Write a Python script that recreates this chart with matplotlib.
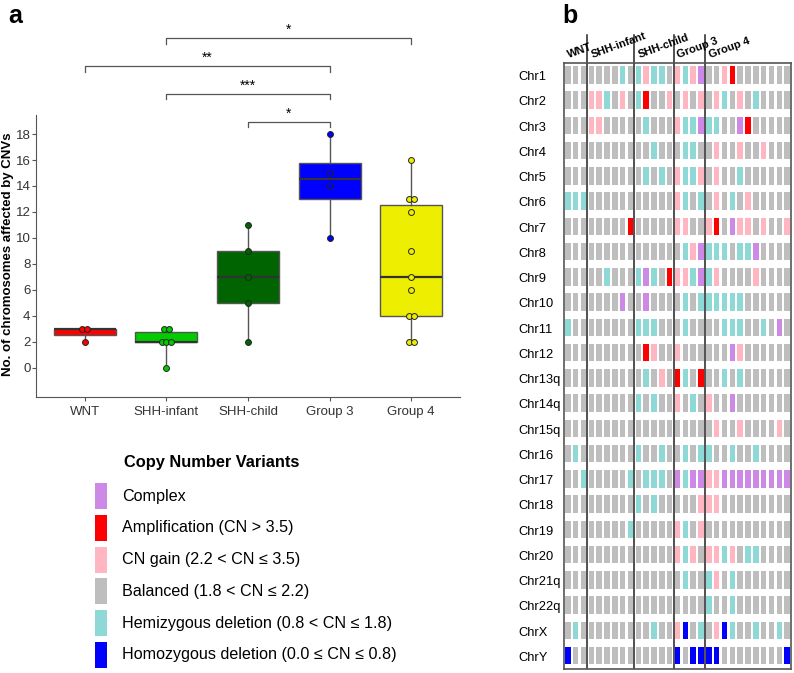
import numpy as np
import matplotlib
matplotlib.use('Agg')
import matplotlib.pyplot as plt
from matplotlib.patches import Rectangle

plt.rcParams['font.family'] = ['Liberation Sans', 'DejaVu Sans']

# ---- panel a data: chromosomes affected by CNVs per sample ----
groups = ['WNT', 'SHH-infant', 'SHH-child', 'Group 3', 'Group 4']
group_colors = ['#FF0000', '#00CC00', '#006400', '#0000FF', '#EEEE00']
wnt = [3, 3, 2]
shh_infant = [2, 2, 2, 0, 3, 3]
shh_child = [7, 11, 9, 5, 2]
group3 = [14, 18, 10, 15]
group4 = [13, 16, 9, 13, 12, 6, 7, 4, 2, 4, 2]
comparisons = [('SHH-child', 'Group 3', '*'),
               ('SHH-infant', 'Group 3', '***'),
               ('WNT', 'Group 3', '**'),
               ('SHH-infant', 'Group 4', '*')]

# ---- panel b data: CNV state per chromosome (rows) and sample (columns) ----
group_sizes = [3, 6, 5, 4, 11]
chromosomes = ['Chr1', 'Chr2', 'Chr3', 'Chr4', 'Chr5', 'Chr6', 'Chr7', 'Chr8',
               'Chr9', 'Chr10', 'Chr11', 'Chr12', 'Chr13q', 'Chr14q', 'Chr15q',
               'Chr16', 'Chr17', 'Chr18', 'Chr19', 'Chr20', 'Chr21q', 'Chr22q',
               'ChrX', 'ChrY']
# V complex, R amplification, P gain, G balanced, C hemizygous, B homozygous
cnv_rows = [
    'GGG GGGGCG CPCCG PCPV GGPRGGGGGGG',
    'GGG PPCGPG CRGGP GPGP GPCGPGCGGGG',
    'GGG PPGGGG GCGGG PCCV CCGGVRGGGGG',
    'GGG GGGGGG GGCGG GCCG GPGGPGGPGGG',
    'GGG GGGGGG GCGCG PCCP GPGGCGGGGGG',
    'CCC GGGGGG GGGGG PCGC GPGCGPGGGGG',
    'GGG GGGGGR GGGGG PPGG PRGVPPGPGGP',
    'GGG GGGGGG GGGGG GCPV CCCGCCVGGGG',
    'GGG GGCGGG CVCGR PPCV CPGGGGPGGGG',
    'GGG GGGGVG GVGGG GCGC CCCCCGGGGGG',
    'CGG GGGGGG CCCGG GCGG GGCCCGGCGVG',
    'GGG GGGGGG GRPGG PGGG GGGVPGGGGGG',
    'GGG GGGGGG GCGPG RCGR GGCGCGGGGGG',
    'GGG GGGGGG CGCGG PGCG PGGVGGGGGGG',
    'GGG GGGGGG GGGGG GGGG GPGGPGGGGPG',
    'GCG GGGGGG CGGCG GCGC CGGCGGCGGGG',
    'GGC GGGGGC GCCCG VCVV PPVVVVVVVVV',
    'GGG GGGGGG CGCGG GGGP PPGGGGGGGGG',
    'GGG GGGGGC GGGGG PCGP GGGGGGGGGGG',
    'GGG GGGGGG GGGGG PCPG PPCPGCCGGGG',
    'GGG GGGGGG GGGGG GCGG CPGCGGGGGGG',
    'GGG GGGGGG GGGGG GGGG CGGCGGGGGGG',
    'GCG GGGGGG GGCGG PBGC GPBCGGCGGCG',
    'BGG GGGGGG GGGGG BGBB BBGGGGGGGGB',
]
cnv_codes = ['V', 'R', 'P', 'G', 'C', 'B']
cnv_labels = ['Complex', 'Amplification (CN > 3.5)', 'CN gain (2.2 < CN \u2264 3.5)',
              'Balanced (1.8 < CN \u2264 2.2)', 'Hemizygous deletion (0.8 < CN \u2264 1.8)',
              'Homozygous deletion (0.0 \u2264 CN \u2264 0.8)']
cnv_colors = ['#CC8AE6', '#FF0000', '#FFB6C1', '#BEBEBE', '#8ED8D6', '#0000FF']

W, H = 794, 673
fig = plt.figure(figsize=(W / 100, H / 100), dpi=100)


def px_axes(x0, y0, x1, y1):
    return fig.add_axes([x0 / W, 1 - y1 / H, (x1 - x0) / W, (y1 - y0) / H])


# ================= panel a =================
ax = px_axes(36, 115, 460, 397)
data = [wnt, shh_infant, shh_child, group3, group4]
pos = np.arange(len(groups))
bp = ax.boxplot(data, positions=pos, widths=0.76, patch_artist=True,
                whis=(0, 100), showfliers=False,
                medianprops=dict(color='#333333', lw=1.6),
                boxprops=dict(edgecolor='#555555', lw=1),
                whiskerprops=dict(color='#555555', lw=1),
                capprops=dict(visible=False))
for patch, c in zip(bp['boxes'], group_colors):
    patch.set_facecolor(c)

for i, vals in enumerate(data):
    vals = np.array(vals)
    xs = np.zeros(len(vals), dtype=float)
    for v in np.unique(vals):
        idx = np.where(vals == v)[0]
        xs[idx] = (np.arange(len(idx)) - (len(idx) - 1) / 2) * 0.06
    ax.scatter(i + xs, vals, s=18, color=group_colors[i], edgecolor='#222222',
               lw=0.7, zorder=5)

ax.set_xlim(-0.6, 4.6)
ax.set_ylim(-2.27, 19.47)
ax.set_yticks(range(0, 19, 2))
ax.set_xticks(pos)
ax.set_xticklabels(groups, fontsize=9.5, color='#333333')
ax.tick_params(axis='y', labelsize=9.5, labelcolor='#333333', color='#555555',
               length=3, pad=1)
ax.tick_params(axis='x', color='#555555', length=3)
for s in ['top', 'right']:
    ax.spines[s].set_visible(False)
for s in ['left', 'bottom']:
    ax.spines[s].set_color('#555555')

step = 2.15
for k, (g1, g2, lab) in enumerate(comparisons):
    x1, x2 = groups.index(g1), groups.index(g2)
    y = 18.94 + k * step
    ax.plot([x1, x1, x2, x2], [y - 0.42, y, y, y - 0.42], color='#555555', lw=0.9,
            clip_on=False)
    ax.text((x1 + x2) / 2, y + 0.1, lab, ha='center', va='bottom', fontsize=10,
            clip_on=False)

# ================= panel b =================
hx = px_axes(564, 63, 791, 669)
ncol = sum(group_sizes)
for r, row in enumerate(cnv_rows):
    codes = row.replace(' ', '')
    cols = [cnv_colors[cnv_codes.index(c)] for c in codes]
    hx.bar(np.arange(ncol), 0.7, bottom=r - 0.38, width=0.7, color=cols, lw=0)
bounds = np.cumsum(group_sizes)[:-1] - 0.5
for b in bounds:
    hx.axvline(b, color='#222222', lw=1.1)
    hx.plot([b, b], [-0.5, -1.6], color='#222222', lw=1.1, clip_on=False)
hx.set_xlim(-0.5, ncol - 0.5)
hx.set_ylim(len(chromosomes) - 0.5, -0.5)
hx.set_xticks([])
hx.set_yticks(range(len(chromosomes)))
hx.set_yticklabels(chromosomes, fontsize=9.3, ha='left')
hx.tick_params(axis='y', length=0, pad=32.5)
for s in hx.spines.values():
    s.set_color('#555555')
    s.set_linewidth(1.2)
starts = np.concatenate([[0], np.cumsum(group_sizes)[:-1]]) - 0.5
for g, s0 in zip(groups, starts):
    hx.text(s0 + 0.75, -0.62, g, ha='left', va='bottom', fontsize=8,
            fontweight='bold', rotation=20, rotation_mode='anchor')

# ================= legend + panel labels =================
ov = fig.add_axes([0, 0, 1, 1])
ov.set_xlim(0, W)
ov.set_ylim(H, 0)
ov.set_axis_off()
ov.text(8, 16, 'a', fontsize=18, fontweight='bold', va='center', ha='left')
ov.text(562, 16, 'b', fontsize=18, fontweight='bold', va='center', ha='left')
ov.text(8, 254, 'No. of chromosomes affected by CNVs', rotation=90, fontsize=9.5,
        fontweight='bold', va='center', ha='center')
ov.text(124, 463, 'Copy Number Variants', fontsize=11.8, fontweight='bold',
        va='center', ha='left')
for k, (lab, c) in enumerate(zip(cnv_labels, cnv_colors)):
    yc = 496 + k * 31.8
    ov.add_patch(Rectangle((95, yc - 13), 12, 26, color=c, lw=0))
    ov.text(122, yc, lab, fontsize=11.6, va='center', ha='left')

fig.savefig('out.png', dpi=100)
